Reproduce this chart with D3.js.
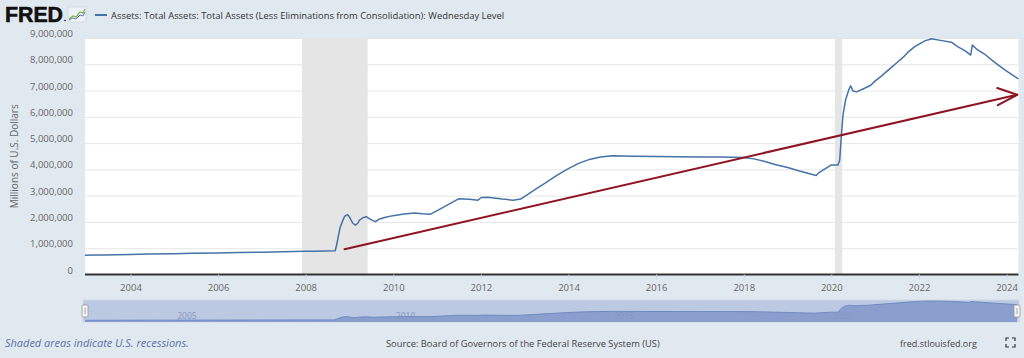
<!DOCTYPE html>
<html><head><meta charset="utf-8">
<script src="https://cdn.jsdelivr.net/npm/d3@7"></script>
<style>
html,body{margin:0;padding:0;background:#e1e9f0;}
svg{display:block;font-family:"Open Sans",sans-serif;}
</style></head><body>
<svg id="c" width="1024" height="358"></svg>
<script>
// ---- data (millions of U.S. dollars, Wednesday level) ----
const dates = ["2002-12-18","2003-03-05","2003-06-04","2003-09-03","2003-12-31","2004-06-02","2004-12-29","2005-06-01","2005-12-28","2006-06-28","2006-12-27","2007-06-27","2007-12-26","2008-03-05","2008-06-04","2008-09-03",
"2008-09-17","2008-10-01","2008-10-15","2008-11-05","2008-11-19","2008-12-03","2008-12-17","2009-01-07","2009-01-28","2009-02-18","2009-03-11","2009-03-25","2009-04-22","2009-05-20","2009-06-17","2009-07-15","2009-08-05","2009-09-02","2009-10-28","2009-12-30",
"2010-03-31","2010-06-30","2010-09-01","2010-11-03","2010-12-29","2011-03-30","2011-06-29","2011-09-28","2011-12-07","2012-01-04","2012-02-29","2012-06-27","2012-09-26","2012-11-28","2012-12-26",
"2013-03-27","2013-06-26","2013-09-25","2013-12-31","2014-03-26","2014-06-25","2014-09-24","2014-12-31","2015-06-24","2015-12-30","2016-06-29","2016-12-28","2017-06-28","2017-09-27","2017-12-27",
"2018-03-28","2018-06-27","2018-09-26","2018-12-26","2019-03-27","2019-06-26","2019-08-28","2019-09-18","2019-10-16","2019-11-27","2019-12-31","2020-02-26",
"2020-03-11","2020-03-25","2020-04-08","2020-04-29","2020-05-27","2020-06-10","2020-07-01","2020-07-29","2020-09-30","2020-11-25","2020-12-30","2021-02-24","2021-03-31","2021-05-26","2021-06-30","2021-08-25","2021-09-29","2021-11-24","2021-12-29","2022-02-23","2022-03-30","2022-04-13",
"2022-06-29","2022-09-28","2022-11-16","2023-01-25","2023-03-08","2023-03-22","2023-04-26","2023-06-28","2023-09-27","2023-12-27","2024-02-28","2024-04-10"];
const values = [732000,738000,745000,752000,762000,776000,790000,805000,818000,835000,850000,866000,885000,883000,893000,905000,
1150000,1500000,1800000,2050000,2200000,2250000,2280000,2130000,1950000,1880000,1950000,2070000,2160000,2200000,2120000,2050000,2010000,2100000,2180000,2240000,
2300000,2340000,2310000,2290000,2420000,2650000,2880000,2860000,2830000,2930000,2940000,2870000,2830000,2870000,2950000,
3230000,3500000,3770000,4030000,4230000,4380000,4470000,4520000,4500000,4490000,4480000,4470000,4470000,4460000,4450000,
4400000,4300000,4180000,4080000,3960000,3840000,3770000,3870000,3950000,4070000,4170000,4170000,
4360000,5300000,6080000,6650000,7040000,7180000,6980000,6950000,7080000,7200000,7360000,7560000,7700000,7920000,8060000,8280000,8450000,8660000,8760000,8900000,8940000,8970000,
8910000,8840000,8680000,8500000,8350000,8730000,8580000,8400000,8060000,7760000,7570000,7440000];
const recessions = [["2007-12-01","2009-06-01"],["2020-02-01","2020-04-01"]];
const yTicks = [0,1000000,2000000,3000000,4000000,5000000,6000000,7000000,8000000,9000000];
const xTickYears = [2004,2006,2008,2010,2012,2014,2016,2018,2020,2022,2024];
const navYears = [2005,2010,2015,2020];
const arrowFrom = ["2008-11-20", 960000];
const arrowTo = ["2024-03-30", 6840000];
const seriesTitle = "Assets: Total Assets: Total Assets (Less Eliminations from Consolidation): Wednesday Level";

// ---- drawing ----
const parse = d3.timeParse("%Y-%m-%d");
const data = dates.map((d,i)=>({date:parse(d), v:values[i]}));
const svg = d3.select("#c");
const L=85, R=1018.5, T=38, B=274.5;
const x = d3.scaleTime().domain([data[0].date, data[data.length-1].date]).range([L,R]);
const y = d3.scaleLinear().domain([0,9000000]).range([B,T]);

svg.append("rect").attr("x",L).attr("y",T).attr("width",R-L).attr("height",B-T).attr("fill","#fff");

svg.append("g").selectAll("rect").data(recessions).join("rect")
  .attr("x",d=>x(parse(d[0]))).attr("y",T)
  .attr("width",d=>x(parse(d[1]))-x(parse(d[0]))).attr("height",B-T)
  .attr("fill","#e5e5e5");

const yAxis = svg.append("g").attr("transform",`translate(${L},0)`)
  .call(d3.axisLeft(y).tickValues(yTicks).tickSize(-(R-L)).tickFormat(d3.format(",")));
yAxis.select(".domain").remove();
yAxis.selectAll(".tick line").attr("stroke","#e6e6e6").attr("stroke-width",1);
yAxis.selectAll(".tick").filter(d=>d===0).select("line").remove();
yAxis.selectAll(".tick text").attr("x",-12).attr("y",-1.5).attr("dy",0)
  .attr("fill","#666").attr("font-size",9.5).attr("font-family","Open Sans");

svg.append("text").attr("transform",`translate(18,${(T+B)/2}) rotate(-90)`)
  .attr("text-anchor","middle").attr("fill","#666").attr("font-size",10)
  .text("Millions of U.S. Dollars");

const xAxis = svg.append("g").attr("transform",`translate(0,${B})`)
  .call(d3.axisBottom(x).tickValues(xTickYears.map(yr=>new Date(yr,0,1))).tickSize(5).tickPadding(5).tickFormat(d3.timeFormat("%Y")));
xAxis.select(".domain").attr("stroke","#333").attr("stroke-width",2).attr("d",`M${L},0H${R}`);
xAxis.selectAll(".tick line").attr("stroke","#ccd6eb");
xAxis.selectAll(".tick text").attr("fill","#666").attr("font-size",9.5).attr("font-family","Open Sans");

const line = d3.line().x(d=>x(d.date)).y(d=>y(d.v)).curve(d3.curveLinear);
svg.append("path").datum(data).attr("d",line).attr("fill","none")
  .attr("stroke","#4572a7").attr("stroke-width",1.5).attr("stroke-linejoin","round");

const ax0=x(parse(arrowFrom[0])), ay0=y(arrowFrom[1]), ax1=x(parse(arrowTo[0])), ay1=y(arrowTo[1]);
const ang = Math.atan2(ay1-ay0, ax1-ax0);
const head = [[ang+Math.PI-0.27,22],[ang+Math.PI+0.55,21]];
const ag = svg.append("g").attr("stroke","#8e1422").attr("stroke-width",2).attr("stroke-linecap","round").attr("fill","none");
ag.append("line").attr("x1",ax0).attr("y1",ay0).attr("x2",ax1).attr("y2",ay1);
head.forEach(([a,len])=>ag.append("line").attr("x1",ax1).attr("y1",ay1)
  .attr("x2",ax1+len*Math.cos(a)).attr("y2",ay1+len*Math.sin(a)));

// header
const logo = svg.append("text").attr("x",5).attr("y",21.5).attr("font-family","Liberation Sans, Arial, sans-serif")
  .attr("font-weight",900).attr("font-size",22).attr("fill","#111").attr("stroke","#111").attr("stroke-width",0.6).text("FRED");
logo.attr("textLength",58).attr("lengthAdjust","spacingAndGlyphs");
svg.append("circle").attr("cx",65).attr("cy",20.5).attr("r",0.8).attr("fill","#111");
const ic = svg.append("g").attr("transform","translate(68,7)");
ic.append("rect").attr("width",18).attr("height",15).attr("fill","#eef2f6").attr("stroke","#c7d2de").attr("stroke-width",0.6);
ic.append("path").attr("d","M1,12 L5,9 L8,10 L12,5 L15,6 L17,2").attr("fill","none").attr("stroke","#7cb342").attr("stroke-width",1.2);
ic.append("path").attr("d","M1,13 L5,11 L8,12 L12,8 L15,9 L17,5").attr("fill","none").attr("stroke","#5a7fb8").attr("stroke-width",1);
svg.append("line").attr("x1",95).attr("x2",107).attr("y1",15).attr("y2",15).attr("stroke","#4572a7").attr("stroke-width",2);
const lt = svg.append("text").attr("x",111).attr("y",18.5).attr("fill","#333").attr("font-size",10).text(seriesTitle);
const w = lt.node().getComputedTextLength();
lt.attr("font-size", 10*394/w);

// navigator
const NT=300, NB=322, NL=83, NR=1019;
const xn = d3.scaleTime().domain(x.domain()).range([NL+2,NR-2]);
const yn = d3.scaleLinear().domain([0,9400000]).range([NB,NT]);
svg.append("rect").attr("x",NL).attr("y",NT).attr("width",NR-NL).attr("height",NB-NT).attr("fill","#bcc9e3").attr("stroke","#d0d8e6");
svg.append("path").datum(data).attr("d",d3.area().x(d=>xn(d.date)).y0(NB).y1(d=>yn(d.v)))
  .attr("fill","#8a9fce");
svg.append("path").datum(data).attr("d",d3.line().x(d=>xn(d.date)).y(d=>yn(d.v)))
  .attr("fill","none").attr("stroke","#6f8bc2").attr("stroke-width",1);
svg.append("g").selectAll("text").data(navYears).join("text")
  .attr("x",d=>xn(new Date(d,0,1))+3).attr("y",319).attr("font-size",8.5).attr("fill","#8797bd").text(d=>d);
[NL+2, NR-2].forEach(hx=>{
  svg.append("rect").attr("x",hx-3).attr("y",305).attr("width",6).attr("height",12).attr("rx",1)
    .attr("fill","#f2f2f2").attr("stroke","#999").attr("stroke-width",0.8);
  svg.append("line").attr("x1",hx).attr("x2",hx).attr("y1",308).attr("y2",314).attr("stroke","#999").attr("stroke-width",0.8);
});

// footer
const sh = svg.append("text").attr("x",5).attr("y",346.5).attr("font-size",10).attr("font-style","italic").attr("fill","#5a72a8")
  .text("Shaded areas indicate U.S. recessions.");
sh.attr("font-size", 10*184/sh.node().getComputedTextLength());
const src = svg.append("text").attr("x",386).attr("y",346.5).attr("font-size",9).attr("fill","#444")
  .text("Source: Board of Governors of the Federal Reserve System (US)");
src.attr("font-size", 9*274/src.node().getComputedTextLength());
svg.append("text").attr("x",900).attr("y",346.5).attr("font-size",9).attr("fill","#444").text("fred.stlouisfed.org");
const ex = svg.append("g").attr("transform","translate(1006,338)").attr("stroke","#333").attr("stroke-width",1.2).attr("fill","none");
ex.append("path").attr("d","M0,3V0H3 M6,0H9V3 M0,6V9H3 M9,6V9H6");
</script></body></html>
